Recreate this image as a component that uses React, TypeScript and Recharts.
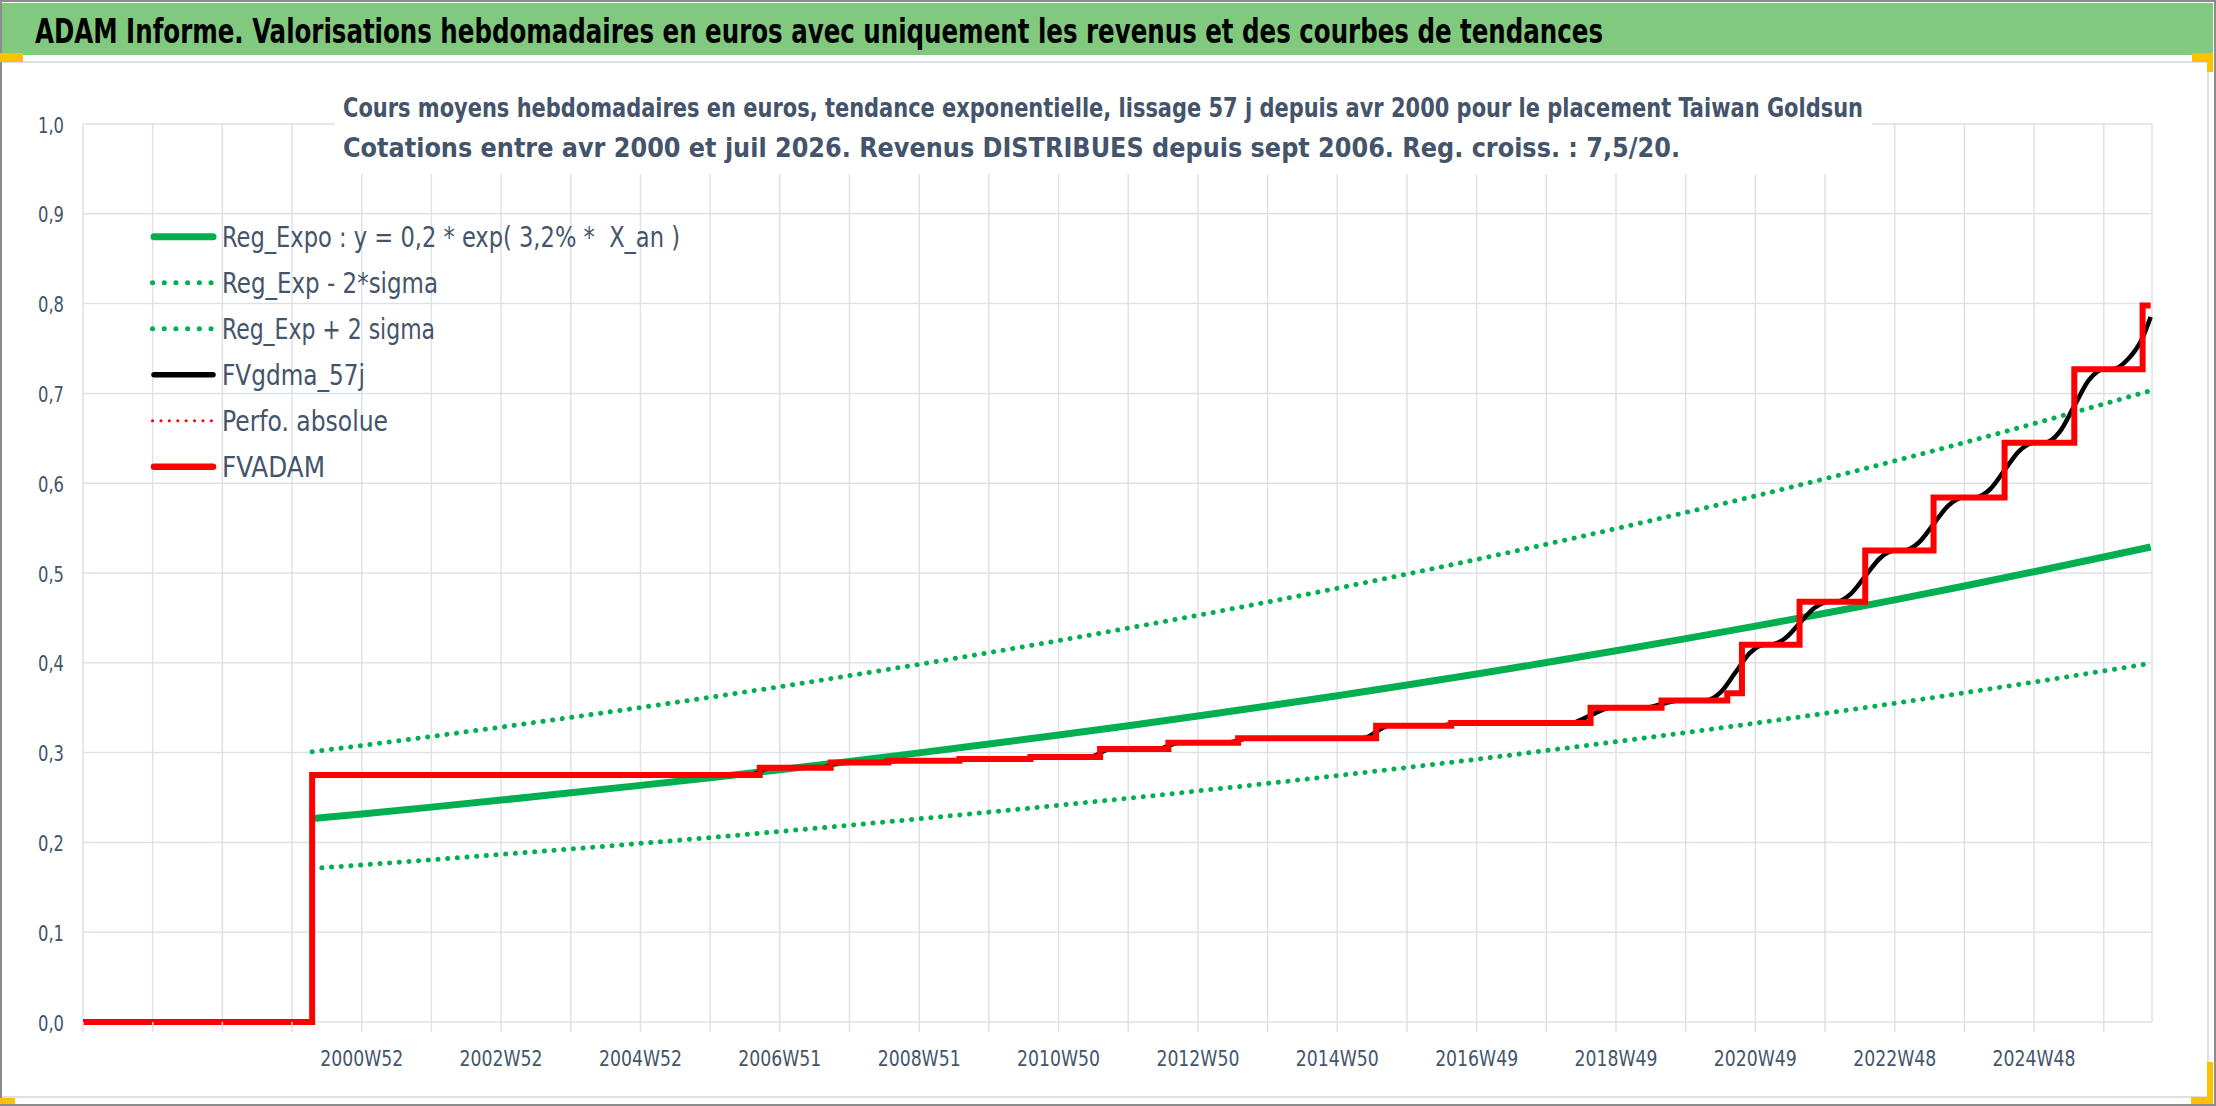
import { LineChart, Line, XAxis, YAxis, CartesianGrid } from "recharts";

const FONT = "'Liberation Sans Narrow', 'Arial Narrow', 'DejaVu Sans Condensed', 'Liberation Sans', sans-serif";
const TEXT = "#44546a";
const GRID = "#dde1e8";
const GREEN = "#00b050";
const RED = "#ff0000";

// x axis is a weekly category index (0 = left edge of the plot)
const gridWeeks = [
  0, 52, 104, 156, 208, 260, 312, 364, 416, 468, 520, 572, 624, 676, 728,
  780, 832, 884, 936, 988, 1040, 1092, 1144, 1196, 1248, 1300, 1352, 1404, 1456, 1508,
];
const labelWeeks = [208, 312, 416, 520, 624, 728, 832, 936, 1040, 1144, 1248, 1352, 1456];
const labelTexts = [
  "2000W52", "2002W52", "2004W52", "2006W51", "2008W51", "2010W50", "2012W50",
  "2014W50", "2016W49", "2018W49", "2020W49", "2022W48", "2024W48",
];
const yTicks = [0, 0.1, 0.2, 0.3, 0.4, 0.5, 0.6, 0.7, 0.8, 0.9, 1];

// trend curves
const expoWeeks = [
  171, 208, 260, 312, 364, 416, 468, 520, 572, 624, 676, 728, 780, 832, 884,
  936, 988, 1040, 1092, 1144, 1196, 1248, 1300, 1352, 1404, 1456, 1508, 1543,
];
const regExpo = [
  0.2265, 0.2317, 0.2393, 0.2471, 0.2552, 0.2635, 0.2721, 0.281, 0.2902, 0.2997, 0.3095, 0.3196, 0.33, 0.3408,
  0.3519, 0.3634, 0.3753, 0.3876, 0.4003, 0.4134, 0.4269, 0.4408, 0.4552, 0.4701, 0.4855, 0.5014, 0.5178, 0.529,
];
const regLow = [
  0.171, 0.1749, 0.1807, 0.1866, 0.1927, 0.1989, 0.2054, 0.2122, 0.2191, 0.2263, 0.2337, 0.2413, 0.2492, 0.2573,
  0.2657, 0.2744, 0.2834, 0.2926, 0.3023, 0.3121, 0.3223, 0.3328, 0.3437, 0.3549, 0.3666, 0.3786, 0.3909, 0.3994,
];
const regHigh = [
  0.301, 0.3079, 0.318, 0.3284, 0.3392, 0.3502, 0.3616, 0.3734, 0.3857, 0.3983, 0.4113, 0.4247, 0.4386, 0.4529,
  0.4677, 0.483, 0.4988, 0.5151, 0.532, 0.5494, 0.5674, 0.5858, 0.605, 0.6248, 0.6452, 0.6664, 0.6882, 0.7031,
];

// FVADAM steps
const adamWeeks = [
  0, 171, 505, 558, 601, 654, 707, 759, 810, 862, 965, 1021, 1125, 1178, 1227, 1238,
  1281, 1330, 1381, 1434, 1486, 1537, 1543,
];
const adamValues = [
  0, 0.275, 0.283, 0.289, 0.291, 0.293, 0.295, 0.304, 0.311, 0.316, 0.33, 0.333, 0.35, 0.358, 0.366, 0.42,
  0.468, 0.525, 0.584, 0.645, 0.727, 0.798, 0.798,
];

// FVgdma_57j smoothed curve
const gdmaWeeks = [
  171, 497, 513, 550, 566, 593, 609, 646, 662, 699, 715, 751, 767, 802, 818, 854, 870, 955, 975, 1013, 1029,
  1110, 1125, 1140, 1165, 1178, 1191,
  1211, 1222, 1233, 1244, 1255,
  1259, 1270, 1281, 1292, 1303,
  1308, 1319, 1330, 1341, 1352,
  1359, 1370, 1381, 1392, 1403,
  1412, 1423, 1434, 1445, 1456,
  1464, 1475, 1486, 1497, 1508,
  1515, 1526, 1537, 1543,
];
const gdmaValues = [
  0.275, 0.275, 0.283, 0.283, 0.289, 0.289, 0.291, 0.291, 0.293, 0.293, 0.295, 0.295, 0.304, 0.304, 0.311, 0.311,
  0.316, 0.316, 0.33, 0.33, 0.333, 0.333, 0.3415, 0.35, 0.35, 0.354, 0.358,
  0.358, 0.367, 0.389, 0.411, 0.42,
  0.42, 0.427, 0.444, 0.461, 0.468,
  0.468, 0.4765, 0.4965, 0.5165, 0.525,
  0.525, 0.534, 0.5545, 0.575, 0.584,
  0.584, 0.593, 0.6145, 0.636, 0.645,
  0.645, 0.657, 0.686, 0.715, 0.727,
  0.727, 0.738, 0.762, 0.785,
];

const legendItems = [
  { name: "Reg_Expo : y = 0,2 * exp( 3,2% *  X_an )", len: 458, color: GREEN, width: 7, dash: "" },
  { name: "Reg_Exp - 2*sigma", len: 216, color: GREEN, width: 5, dash: "0.1 11.6" },
  { name: "Reg_Exp + 2 sigma", len: 213, color: GREEN, width: 5, dash: "0.1 11.6" },
  { name: "FVgdma_57j", len: 143, color: "#000000", width: 5.5, dash: "" },
  { name: "Perfo. absolue", len: 166, color: RED, width: 3, dash: "0.1 8.3" },
  { name: "FVADAM", len: 103, color: RED, width: 6.5, dash: "" },
];

const toPoints = (ws: number[], vs: number[]) => ws.map((w, i) => ({ w, v: vs[i] }));

const expoData = toPoints(expoWeeks, regExpo);
const lowData = toPoints(expoWeeks, regLow);
const highData = toPoints(expoWeeks, regHigh);
const adamData = toPoints(adamWeeks, adamValues);
const gdmaData = toPoints(gdmaWeeks, gdmaValues);

function XTick({ x, payload }: any) {
  const i = labelWeeks.indexOf(payload.value);
  if (i < 0) return <g />;
  return (
    <text
      x={x}
      y={1066}
      textAnchor="middle"
      fontSize={22}
      fill={TEXT}
      fontFamily={FONT}
      textLength={83}
      lengthAdjust="spacingAndGlyphs"
    >
      {labelTexts[i]}
    </text>
  );
}

function YTick({ y, payload }: any) {
  return (
    <text
      x={64}
      y={y + 8.5}
      textAnchor="end"
      fontSize={21}
      fill={TEXT}
      fontFamily={FONT}
      textLength={26}
      lengthAdjust="spacingAndGlyphs"
    >
      {payload.value.toFixed(1).replace(".", ",")}
    </text>
  );
}

function Overlay() {
  return (
    <svg
      width={2216}
      height={1106}
      style={{ position: "absolute", left: 0, top: 0, pointerEvents: "none" }}
    >
      <rect x={0} y={3} width={2213} height={52} fill="#80c97f" />
      <text
        x={35}
        y={43}
        fontSize={34}
        fontWeight="bold"
        fill="#000"
        fontFamily={FONT}
        textLength={1568}
        lengthAdjust="spacingAndGlyphs"
      >
        ADAM Informe. Valorisations hebdomadaires en euros avec uniquement les revenus et des courbes de tendances
      </text>
      <rect x={1} y={62} width={2207} height={1035} fill="none" stroke="#dcdfe6" strokeWidth={2} />
      <rect x={1} y={1} width={2214} height={1104} fill="none" stroke="#8c8c8c" strokeWidth={2} />
      <rect x={0} y={53} width={23} height={9} fill="#ffc000" />
      <rect x={2192} y={53} width={21} height={9} fill="#ffc000" />
      <rect x={2207} y={53} width={6} height={19} fill="#ffc000" />
      <rect x={0} y={1098} width={15} height={6} fill="#ffc000" />
      <rect x={2191} y={1097} width={22} height={7} fill="#ffc000" />
      <rect x={2207} y={1062} width={6} height={42} fill="#ffc000" />

      <rect x={335} y={64} width={1537} height={110} fill="#ffffff" />
      <text
        x={343}
        y={117}
        fontSize={27}
        fontWeight="bold"
        fill={TEXT}
        fontFamily={FONT}
        textLength={1520}
        lengthAdjust="spacingAndGlyphs"
      >
        Cours moyens hebdomadaires en euros, tendance exponentielle, lissage 57 j depuis avr 2000 pour le placement Taiwan Goldsun
      </text>
      <text
        x={343}
        y={157}
        fontSize={27}
        fontWeight="bold"
        fill={TEXT}
        fontFamily={FONT}
        textLength={1337}
        lengthAdjust="spacingAndGlyphs"
      >
        Cotations entre avr 2000 et juil 2026. Revenus DISTRIBUES depuis sept 2006. Reg. croiss. : 7,5/20.
      </text>

      {legendItems.map((item, i) => {
        const cy = 236.7 + i * 46;
        return (
          <g key={item.name}>
            <line
              x1={item.dash ? 152.5 : 154}
              x2={213}
              y1={cy}
              y2={cy}
              stroke={item.color}
              strokeWidth={item.width}
              strokeLinecap="round"
              strokeDasharray={item.dash || undefined}
            />
            <text
              x={222}
              y={cy + 10}
              fontSize={28}
              fill={TEXT}
              fontFamily={FONT}
              textLength={item.len}
              lengthAdjust="spacingAndGlyphs"
              style={{ whiteSpace: "pre" }}
            >
              {item.name}
            </text>
          </g>
        );
      })}
    </svg>
  );
}

export default function App() {
  return (
    <div style={{ position: "absolute", left: 0, top: 0, width: 2216, height: 1106, background: "#fff" }}>
      <LineChart width={2216} height={1106} margin={{ top: 124, right: 64, bottom: 44, left: 13 }}>
        <CartesianGrid stroke={GRID} strokeWidth={1.5} />
        <XAxis
          dataKey="w"
          type="number"
          domain={[0, 1544]}
          ticks={gridWeeks}
          interval={0}
          height={40}
          axisLine={false}
          tickLine={{ stroke: GRID, strokeWidth: 1.5 }}
          tickSize={10}
          tick={<XTick />}
        />
        <YAxis
          type="number"
          domain={[0, 1]}
          ticks={yTicks}
          interval={0}
          width={70}
          axisLine={false}
          tickLine={false}
          tick={<YTick />}
        />
        <Line
          data={expoData}
          dataKey="v"
          type="monotone"
          stroke={GREEN}
          strokeWidth={7}
          dot={false}
          activeDot={false}
          isAnimationActive={false}
        />
        <Line
          data={lowData}
          dataKey="v"
          type="monotone"
          stroke={GREEN}
          strokeWidth={5}
          strokeDasharray="0.1 9.6"
          strokeLinecap="round"
          dot={false}
          activeDot={false}
          isAnimationActive={false}
        />
        <Line
          data={highData}
          dataKey="v"
          type="monotone"
          stroke={GREEN}
          strokeWidth={5}
          strokeDasharray="0.1 9.6"
          strokeLinecap="round"
          dot={false}
          activeDot={false}
          isAnimationActive={false}
        />
        <Line
          data={gdmaData}
          dataKey="v"
          type="monotone"
          stroke="#000000"
          strokeWidth={4.5}
          dot={false}
          activeDot={false}
          isAnimationActive={false}
        />
        <Line
          data={adamData}
          dataKey="v"
          type="stepAfter"
          stroke={RED}
          strokeWidth={6}
          strokeLinejoin="miter"
          dot={false}
          activeDot={false}
          isAnimationActive={false}
        />
      </LineChart>
      <Overlay />
    </div>
  );
}
